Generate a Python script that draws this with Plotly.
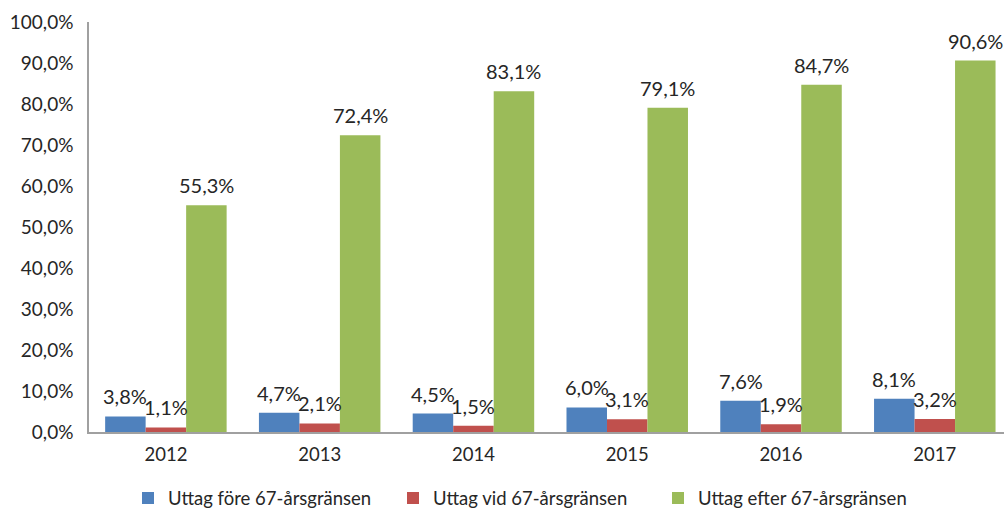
import plotly.graph_objects as go

years = ["2012", "2013", "2014", "2015", "2016", "2017"]
fore = [3.8, 4.7, 4.5, 6.0, 7.6, 8.1]
vid = [1.1, 2.1, 1.5, 3.1, 1.9, 3.2]
efter = [55.3, 72.4, 83.1, 79.1, 84.7, 90.6]
names = ["Uttag före 67-årsgränsen", "Uttag vid 67-årsgränsen", "Uttag efter 67-årsgränsen"]
colors = ["#4F81BD", "#C0504D", "#9BBB59"]

W, H = 1004, 508
ML, MR, MT, MB = 89, 0, 22, 76
XR = [-0.5, 5.45]
BARGAP = 0.21
TXT = "#262626"
FONT = "Lato"

def lab(v):
    return f"{v:.1f}%".replace(".", ",")

px_per_cat = (W - ML - MR) / (XR[1] - XR[0])
bar_px = px_per_cat * (1 - BARGAP) / 3

fig = go.Figure()
for i, (name, vals, col) in enumerate(zip(names, [fore, vid, efter], colors)):
    fig.add_trace(go.Bar(
        x=years, y=[v / 100 for v in vals], name=name, marker_color=col,
        marker_line_width=0,
    ))
    for j, v in enumerate(vals):
        fig.add_annotation(
            x=j, y=v / 100, text=lab(v), showarrow=False,
            xshift=(i - 1) * bar_px, yshift=6, yanchor="bottom",
            font=dict(size=20, color=TXT, family=FONT),
        )

fig.update_layout(
    width=W, height=H,
    barmode="group", bargap=BARGAP, bargroupgap=0,
    separators=", ",
    plot_bgcolor="white", paper_bgcolor="white",
    margin=dict(l=ML, r=MR, t=MT, b=MB, autoexpand=False),
    font=dict(family=FONT, size=19, color=TXT),
    showlegend=True,
    legend=dict(orientation="h", x=(128 - ML) / (W - ML - MR), xanchor="left",
                y=-0.116, yanchor="top",
                font=dict(size=18.5), itemwidth=30, traceorder="normal",
                entrywidth=220, entrywidthmode="pixels"),
)
fig.update_yaxes(range=[0, 1], tickformat=".1%", dtick=0.1, showgrid=False,
                 showline=True, linecolor="#A0A0A0", linewidth=1.5, ticks="",
                 ticklabelstandoff=10, zeroline=False, tickfont=dict(size=19))
fig.update_xaxes(range=XR, showline=True, linecolor="#A0A0A0", linewidth=1.5,
                 ticks="", showgrid=False, ticklabelstandoff=5, tickfont=dict(size=18.5))
fig.write_html("out.html", config={"displayModeBar": False},
               post_script="document.body.style.margin='0px';document.body.style.overflow='hidden';")
